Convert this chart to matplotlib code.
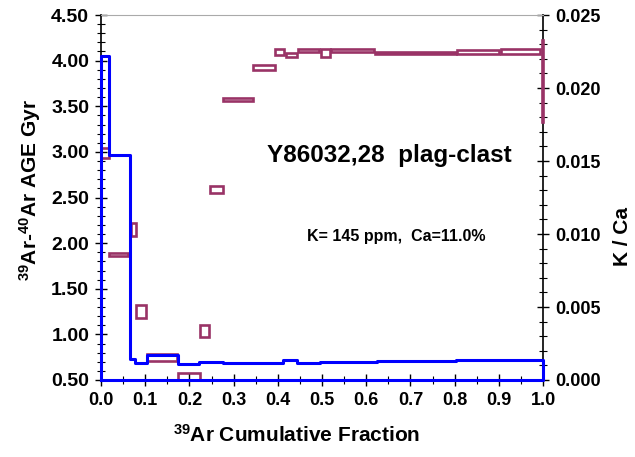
import numpy as np
import matplotlib
matplotlib.use('Agg')
import matplotlib.pyplot as plt
from matplotlib.patches import Rectangle
from matplotlib.ticker import MultipleLocator, FormatStrFormatter

plt.rcParams['font.family'] = ['Liberation Sans', 'DejaVu Sans']
plt.rcParams['font.weight'] = 'bold'
plt.rcParams['mathtext.fontset'] = 'custom'
plt.rcParams['mathtext.rm'] = 'Liberation Sans:bold'
plt.rcParams['mathtext.default'] = 'rm'

# age spectrum steps (cumulative 39Ar fraction edges, age in Gyr)
age_edges = [0.0, 0.018, 0.066, 0.077, 0.103, 0.175, 0.222, 0.277, 0.412, 0.443, 0.495, 0.624, 0.804, 1.0]
ages = [4.05, 2.97, 0.73, 0.69, 0.775, 0.675, 0.697, 0.686, 0.716, 0.685, 0.697, 0.71, 0.716]

# K/Ca boxes: left edge, right edge, centre, half height
kca_left = [0.0, 0.018, 0.068, 0.080, 0.104, 0.174, 0.223, 0.246, 0.277, 0.345, 0.394, 0.419, 0.446, 0.497, 0.521, 0.620, 0.806, 0.904, 0.998]
kca_right = [0.018, 0.062, 0.079, 0.102, 0.172, 0.223, 0.245, 0.276, 0.343, 0.393, 0.414, 0.443, 0.493, 0.519, 0.617, 0.804, 0.900, 0.994, 1.0]
kca = [0.01555, 0.0086, 0.0103, 0.0047, 0.00154, 0.0002, 0.00337, 0.01306, 0.0192, 0.0214, 0.02247, 0.02226, 0.02258,
       0.0224, 0.02258, 0.0224, 0.02247, 0.0225, 0.0205]
kca_err = [0.00034, 0.0001, 0.00045, 0.00045, 0.00024, 0.0003, 0.00042, 0.00025, 0.0001, 0.00015, 0.00023, 0.00013,
           0.00012, 0.0003, 0.0001, 0.0001, 0.00012, 0.0002, 0.0028]

plum = '#993366'

fig = plt.figure(figsize=(6.35, 4.57), dpi=100)
ax = fig.add_axes([101 / 635, 77 / 457, 442 / 635, 365 / 457])
ax2 = ax.twinx()
ax.set_zorder(ax2.get_zorder() + 1)
ax.patch.set_visible(False)

# K/Ca boxes
for i, (l, r, c, e) in enumerate(zip(kca_left, kca_right, kca, kca_err)):
    last = i == len(kca) - 1
    ax2.add_patch(Rectangle((l, c - e), r - l, 2 * e, fill=last, facecolor=plum, edgecolor=plum,
                            lw=1.9, clip_on=not last, zorder=3 if last else 1))

# age spectrum
xs = [0.0]
ys = [0.5]
for i in range(len(ages)):
    xs += [age_edges[i], age_edges[i + 1]]
    ys += [ages[i], ages[i]]
xs += [1.0, 0.0]
ys += [0.5, 0.5]
ax.plot(xs, ys, color='#0000ff', lw=2.2, clip_on=False, zorder=3)

ax.set_xlim(0, 1.0)
ax.set_ylim(0.5, 4.5)
ax2.set_ylim(0, 0.025)

ax.xaxis.set_major_locator(MultipleLocator(0.1))
ax.xaxis.set_minor_locator(MultipleLocator(0.05))
ax.yaxis.set_major_locator(MultipleLocator(0.5))
ax.yaxis.set_minor_locator(MultipleLocator(0.1))
ax2.yaxis.set_major_locator(MultipleLocator(0.005))
ax2.yaxis.set_minor_locator(MultipleLocator(0.001))
ax.xaxis.set_major_formatter(FormatStrFormatter('%.1f'))
ax.yaxis.set_major_formatter(FormatStrFormatter('%.2f'))
ax2.yaxis.set_major_formatter(FormatStrFormatter('%.3f'))

for a in (ax, ax2):
    a.tick_params(which='major', direction='inout', length=9, width=1, labelsize=13, color='black')
    a.tick_params(which='minor', direction='inout', length=6, width=0.8, color='black')
ax.tick_params(axis='y', which='major', pad=4, labelsize=14)
ax.tick_params(axis='x', which='major', pad=4)
ax2.tick_params(axis='y', which='major', pad=4)

ax.spines['top'].set_color('#aaaaaa')
ax.spines['bottom'].set_visible(False)
ax.spines['right'].set_visible(False)
for s in ('top', 'bottom', 'left'):
    ax2.spines[s].set_visible(False)
ax2.spines['right'].set_linewidth(1.2)
ax.spines['left'].set_linewidth(1.2)

fig.text(297 / 635, 1 - 435 / 457, r'$^{39}$Ar Cumulative Fraction', ha='center', va='center',
         fontsize=15, fontweight='bold')
fig.text(30 / 635, 1 - 190 / 457, r'$^{39}$Ar-$^{40}$Ar AGE Gyr', ha='center', va='center',
         rotation=90, fontsize=15, fontweight='bold')
fig.text(622 / 635, 1 - 236 / 457, 'K / Ca', ha='center', va='center', rotation=90,
         fontsize=15, fontweight='bold')

ax.text(0.3756, 0.598, 'Y86032,28  plag-clast', transform=ax.transAxes, ha='left', va='baseline',
        fontsize=17.5, fontweight='bold')
ax.text(0.465, 0.3816, 'K= 145 ppm,  Ca=11.0%', transform=ax.transAxes, ha='left', va='baseline',
        fontsize=11.5, fontweight='bold')

fig.savefig('out.png', dpi=100)
